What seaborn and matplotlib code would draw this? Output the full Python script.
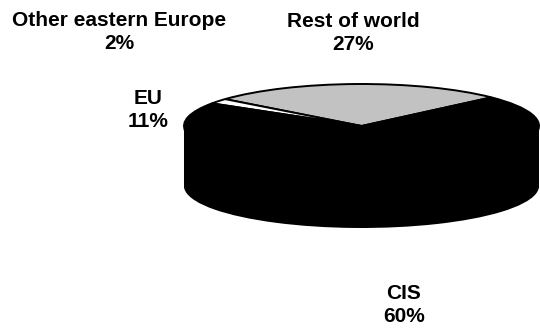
import numpy as np
import matplotlib
matplotlib.use("Agg")
import matplotlib.pyplot as plt
import seaborn as sns

# Export shares (%), counter-clockwise from the start angle
regions = ["Rest of world", "Other eastern Europe", "EU", "CIS"]
shares = [27, 2, 11, 60]
top_colors = ["#c2c2c2", "#ffffff", "#000000", "#000000"]
side_colors = ["#8a8a8a", "#bdbdbd", "#000000", "#000000"]

sns.set_theme(style="white")
plt.rcParams["font.family"] = ["Liberation Sans", "DejaVu Sans"]

W, H = 540, 331
fig = plt.figure(figsize=(W / 100, H / 100), dpi=100)
ax = fig.add_axes([0, 0, 1, 1])

# ellipse of the top face, in pixels
cx, cy, a, b, depth = 361.5, 126.0, 177.5, 42.0, 60.0

start = 43
# side of the 3D pie: stacked copies shifted downwards
for d in np.linspace(depth / b, 0, 50):
    ax.pie(shares, colors=side_colors, startangle=start, radius=1,
           center=(0, -d), wedgeprops=dict(linewidth=0), frame=True)
# top face
ax.pie(shares, colors=top_colors, startangle=start, radius=1, center=(0, 0),
       wedgeprops=dict(linewidth=1.4, edgecolor="black"), frame=True)
ax.set_xlim((0 - cx) / a, (W - cx) / a)
ax.set_ylim((cy - H) / b, cy / b)
ax.set_aspect("auto")
ax.axis("off")

# labels (pixel positions of block centres)
label_pos = {"Other eastern Europe": (119, 32), "Rest of world": (353, 33),
             "EU": (148, 110), "CIS": (404, 305)}
for name, val in zip(regions, shares):
    px, py = label_pos[name]
    fig.text(px / W, 1 - py / H, f"{name}\n{val}%", ha="center", va="center",
             fontsize=15, fontweight="bold", color="black", linespacing=1.25)

fig.savefig("out.png", dpi=100)
